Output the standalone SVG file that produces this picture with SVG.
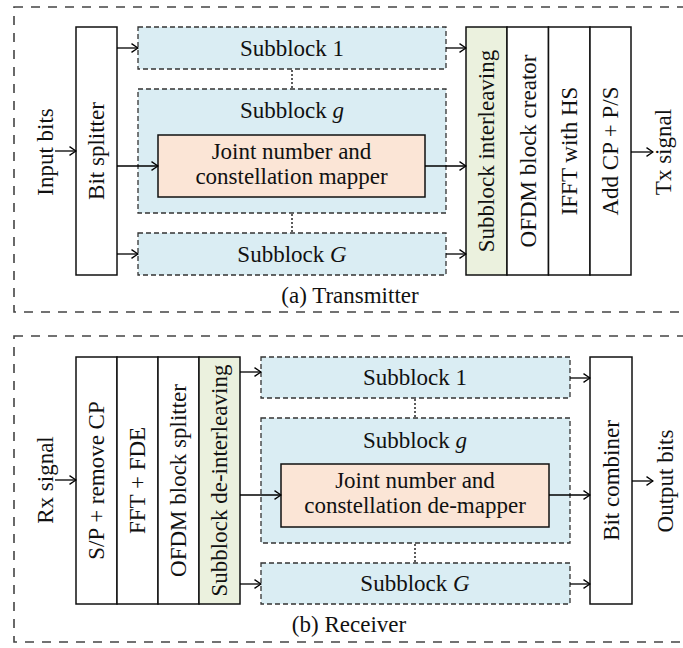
<svg xmlns="http://www.w3.org/2000/svg" width="683" height="648" viewBox="0 0 683 648">
<defs>
<marker id="ah" viewBox="0 0 8 10" refX="7.3" refY="5" markerWidth="8" markerHeight="10" markerUnits="userSpaceOnUse" orient="auto">
<path d="M0.8,0.6 L7.3,5 L0.8,9.4" fill="none" stroke="#000" stroke-width="1.3"/>
</marker>
</defs>
<style>
text{font-family:"Liberation Serif","Times New Roman",serif;font-size:23px;fill:#111}
.mid{text-anchor:middle}
.outer{fill:none;stroke:#444;stroke-width:1.6;stroke-dasharray:9 8}
.sb{fill:#daedf3;stroke:#333;stroke-width:1.3;stroke-dasharray:5 3}
.jt{fill:#fbe5d6;stroke:#111;stroke-width:1.5}
.bx{fill:#fff;stroke:#111;stroke-width:1.5}
.gr{fill:#ebf1de;stroke:#111;stroke-width:1.5}
.dot{stroke:#333;stroke-width:1.6;stroke-dasharray:2 2;fill:none}
.ar{stroke:#000;stroke-width:1.3;fill:none;marker-end:url(#ah)}
</style>
<rect width="683" height="648" fill="#fff"/>

<g id="tx-frame">
<rect class="outer" x="14" y="7" width="690" height="305"/>
<text class="mid" x="350" y="303">(a) Transmitter</text>
</g>
<g id="rx-frame">
<rect class="outer" x="14" y="336" width="690" height="306"/>
<text class="mid" x="349" y="632">(b) Receiver</text>
</g>

<!-- Transmitter -->
<g id="tx-input"><text class="mid" transform="translate(45,152) rotate(-90)" y="7.8">Input bits</text></g>
<g id="tx-bitsplitter"><rect class="bx" x="76" y="27" width="41" height="248"/><text class="mid" transform="translate(96.5,151) rotate(-90)" y="7.8">Bit splitter</text></g>
<g id="tx-sb1"><rect class="sb" x="138" y="27" width="308" height="42"/><text class="mid" x="292" y="56">Subblock 1</text></g>
<g id="tx-sbg"><rect class="sb" x="138" y="89" width="308" height="124"/><text class="mid" x="292" y="118">Subblock <tspan font-style="italic">g</tspan></text></g>
<g id="tx-joint"><rect class="jt" x="158" y="135" width="267" height="62"/><text class="mid" x="291.5" y="159">Joint number and</text><text class="mid" x="291.5" y="184">constellation mapper</text></g>
<g id="tx-sbG"><rect class="sb" x="138" y="233" width="308" height="42"/><text class="mid" x="292" y="262">Subblock <tspan font-style="italic">G</tspan></text></g>
<g id="tx-interleave"><rect class="gr" x="466" y="27" width="41" height="248"/><text class="mid" transform="translate(486.5,151) rotate(-90)" y="7.8">Subblock interleaving</text></g>
<g id="tx-ofdm"><rect class="bx" x="507" y="27" width="41.5" height="248"/><text class="mid" transform="translate(527.75,151) rotate(-90)" y="7.8">OFDM block creator</text></g>
<g id="tx-ifft"><rect class="bx" x="548.5" y="27" width="41.5" height="248"/><text class="mid" transform="translate(569.25,151) rotate(-90)" y="7.8">IFFT with HS</text></g>
<g id="tx-addcp"><rect class="bx" x="590" y="27" width="41" height="248"/><text class="mid" transform="translate(610.5,151) rotate(-90)" y="7.8">Add CP + P/S</text></g>
<g id="tx-output"><text class="mid" transform="translate(663,152) rotate(-90)" y="7.8">Tx signal</text></g>

<!-- Receiver -->
<g id="rx-input"><text class="mid" transform="translate(45,480) rotate(-90)" y="7.8">Rx signal</text></g>
<g id="rx-sp"><rect class="bx" x="76" y="357" width="41" height="247"/><text class="mid" transform="translate(96.5,480.5) rotate(-90)" y="7.8">S/P + remove CP</text></g>
<g id="rx-fft"><rect class="bx" x="117" y="357" width="41" height="247"/><text class="mid" transform="translate(137.5,480.5) rotate(-90)" y="7.8">FFT + FDE</text></g>
<g id="rx-ofdm"><rect class="bx" x="158" y="357" width="41" height="247"/><text class="mid" transform="translate(178.5,480.5) rotate(-90)" y="7.8">OFDM block splitter</text></g>
<g id="rx-deint"><rect class="gr" x="199" y="357" width="41" height="247"/><text class="mid" transform="translate(219.5,480.5) rotate(-90)" y="7.8">Subblock de-interleaving</text></g>
<g id="rx-sb1"><rect class="sb" x="261" y="357" width="309" height="41"/><text class="mid" x="415" y="385">Subblock 1</text></g>
<g id="rx-sbg"><rect class="sb" x="261" y="418" width="309" height="125"/><text class="mid" x="415" y="448">Subblock <tspan font-style="italic">g</tspan></text></g>
<g id="rx-joint"><rect class="jt" x="281" y="464" width="268" height="63"/><text class="mid" x="415" y="488">Joint number and</text><text class="mid" x="415" y="513">constellation de-mapper</text></g>
<g id="rx-sbG"><rect class="sb" x="261" y="563" width="309" height="41"/><text class="mid" x="415" y="591">Subblock <tspan font-style="italic">G</tspan></text></g>
<g id="rx-combiner"><rect class="bx" x="590" y="357" width="42" height="247"/><text class="mid" transform="translate(611,480.5) rotate(-90)" y="7.8">Bit combiner</text></g>
<g id="rx-output"><text class="mid" transform="translate(665,481) rotate(-90)" y="7.8">Output bits</text></g>

<g id="connectors">
<line class="ar" x1="55" y1="151" x2="76" y2="151"/>
<line class="ar" x1="117" y1="48" x2="138" y2="48"/>
<line class="ar" x1="117" y1="166" x2="158" y2="166"/>
<line class="ar" x1="117" y1="254" x2="138" y2="254"/>
<line class="ar" x1="446" y1="48" x2="466" y2="48"/>
<line class="ar" x1="425" y1="166" x2="466" y2="166"/>
<line class="ar" x1="446" y1="254" x2="466" y2="254"/>
<line class="ar" x1="631" y1="152" x2="653" y2="152"/>
<line class="dot" x1="292" y1="70" x2="292" y2="88"/>
<line class="dot" x1="292" y1="214" x2="292" y2="232"/>

<line class="ar" x1="55" y1="480" x2="76" y2="480"/>
<line class="ar" x1="240" y1="372" x2="261" y2="372"/>
<line class="ar" x1="240" y1="495" x2="281" y2="495"/>
<line class="ar" x1="240" y1="584" x2="261" y2="584"/>
<line class="ar" x1="570" y1="378" x2="590" y2="378"/>
<line class="ar" x1="549" y1="495" x2="590" y2="495"/>
<line class="ar" x1="570" y1="584" x2="590" y2="584"/>
<line class="ar" x1="632" y1="481" x2="653" y2="481"/>
<line class="dot" x1="415" y1="399" x2="415" y2="417"/>
<line class="dot" x1="415" y1="544" x2="415" y2="562"/>
</g>
</svg>
